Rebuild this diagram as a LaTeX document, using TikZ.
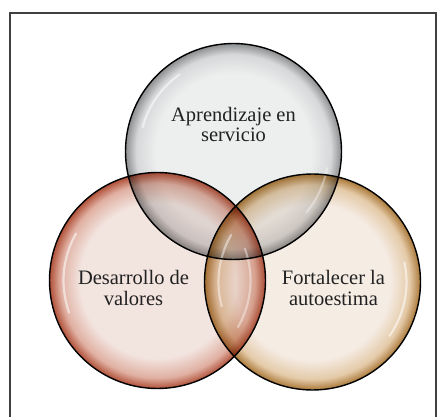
\documentclass[tikz,border=0pt]{standalone}
\usepackage{fontspec}
\setmainfont{Liberation Serif}
\definecolor{topin}{HTML}{EDEEEE}
\definecolor{topmid}{HTML}{D6D8D9}
\definecolor{toprim}{HTML}{8C8E90}
\definecolor{redin}{HTML}{F2E4DF}
\definecolor{redmid}{HTML}{E0B0A2}
\definecolor{redrim}{HTML}{B05038}
\definecolor{orin}{HTML}{F5ECE4}
\definecolor{ormid}{HTML}{E4CAA8}
\definecolor{orrim}{HTML}{AA7838}
\definecolor{framecol}{HTML}{404040}
\definecolor{textcol}{HTML}{222222}
\pgfdeclareradialshading{topshade}{\pgfpoint{0bp}{0bp}}{color(0bp)=(topin); color(18bp)=(topin); color(22.5bp)=(topmid); color(25bp)=(toprim); color(50bp)=(toprim)}
\pgfdeclareradialshading{redshade}{\pgfpoint{0bp}{0bp}}{color(0bp)=(redin); color(18bp)=(redin); color(22.5bp)=(redmid); color(25bp)=(redrim); color(50bp)=(redrim)}
\pgfdeclareradialshading{orshade}{\pgfpoint{0bp}{0bp}}{color(0bp)=(orin); color(18bp)=(orin); color(22.5bp)=(ormid); color(25bp)=(orrim); color(50bp)=(orrim)}
\tikzset{
  bubble/.style={blend mode=multiply},
  rim/.style={draw=black, line width=1.4pt},
  gloss/.style={draw=white, line width=2.2pt, line cap=round, draw opacity=0.55},
  label/.style={align=center, inner sep=0pt, text=textcol, font=\fontsize{20.5}{20.5}\selectfont},
  frameline/.style={draw=framecol, line width=1.4pt}
}
\begin{document}
\begin{tikzpicture}[x=1pt,y=-1pt]
\useasboundingbox (0,0) rectangle (437,417);
\fill[white] (0,0) rectangle (437,417);
\coordinate (ct) at (233.5,151.5);
\coordinate (cl) at (157.5,280.5);
\coordinate (cr) at (312.5,282);
% fills
\path[bubble, shading=topshade] (ct) circle[radius=108pt];
\path[bubble, shading=redshade] (cl) circle[radius=108pt];
\path[bubble, shading=orshade] (cr) circle[radius=108pt];
% gloss highlights
\draw[gloss] ([shift={(125:94pt)}]ct) arc[start angle=125, end angle=165, radius=94pt];
\draw[gloss, draw opacity=0.35] ([shift={(-10:95pt)}]ct) arc[start angle=-10, end angle=-40, radius=95pt];
\draw[gloss] ([shift={(150:94pt)}]cl) arc[start angle=150, end angle=200, radius=94pt];
\draw[gloss, draw opacity=0.4] ([shift={(20:93pt)}]cl) arc[start angle=20, end angle=-30, radius=93pt];
\draw[gloss, draw opacity=0.45] ([shift={(150:94pt)}]cr) arc[start angle=150, end angle=195, radius=94pt];
\draw[gloss] ([shift={(12:94pt)}]cr) arc[start angle=12, end angle=-35, radius=94pt];
% outlines
\draw[rim] (ct) circle[radius=108pt];
\draw[rim] (cl) circle[radius=108pt];
\draw[rim] (cr) circle[radius=108pt];
% frame
\draw[frameline] (10,418) -- (10,13) -- (436,13) -- (436,418);
% labels
\node[label] (t1) at (233.5,124.5) {Aprendizaje en\\servicio};
\node[label] (t2) at (133.5,288) {Desarrollo de\\valores};
\node[label] (t3) at (333.5,288) {Fortalecer la\\autoestima};
\end{tikzpicture}
\end{document}
